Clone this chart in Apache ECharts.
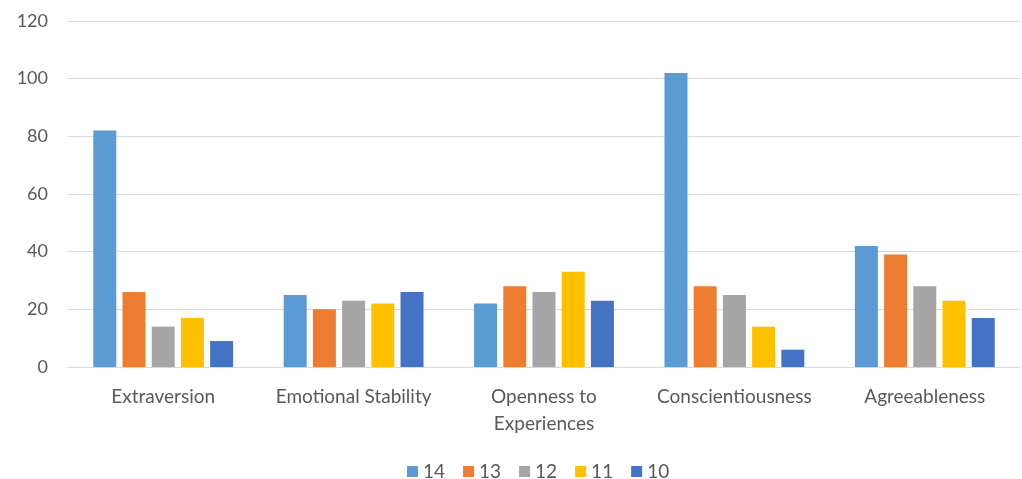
<!DOCTYPE html>
<html>
<head>
<meta charset="utf-8">
<script src="https://cdn.jsdelivr.net/npm/echarts@6/dist/echarts.min.js"></script>
<style>
	html, body { margin: 0; padding: 0; background: #fff; }
	#main { width: 1022px; height: 479px; }
</style>
</head>
<body>
<div id="main"></div>
<script>
	// categories and series values
	var categories = ['Extraversion', 'Emotional Stability', 'Openness to\nExperiences', 'Conscientiousness', 'Agreeableness'];
	var seriesNames = ['14', '13', '12', '11', '10'];
	var v14 = [82, 25, 22, 102, 42];
	var v13 = [26, 20, 28, 28, 39];
	var v12 = [14, 23, 26, 25, 28];
	var v11 = [17, 22, 33, 14, 23];
	var v10 = [9, 26, 23, 6, 17];
	var colors = ['#5B9BD5', '#ED7D31', '#A5A5A5', '#FFC000', '#4472C4'];

	var font = 'Lato, "Open Sans", sans-serif';
	var values = [v14, v13, v12, v11, v10];

	var series = [];
	for (var i = 0; i < seriesNames.length; i++) {
		series.push({
			name: seriesNames[i],
			type: 'bar',
			data: values[i],
			barWidth: 23,
			barGap: '27%',
			itemStyle: { color: colors[i] }
		});
	}

	var myChart = echarts.init(document.getElementById('main'));
	myChart.setOption({
		animation: false,
		color: colors,
		grid: { left: 68, right: 2, top: 21, bottom: 112 },
		legend: {
			top: 457,
			left: 402,
			itemWidth: 11,
			itemHeight: 11,
			itemGap: 18,
			icon: 'rect',
			textStyle: { color: '#595959', fontSize: 19, fontFamily: font }
		},
		xAxis: {
			type: 'category',
			data: categories,
			axisLine: { lineStyle: { color: '#D9D9D9' } },
			axisTick: { show: false },
			axisLabel: { interval: 0, color: '#595959', fontSize: 19, fontFamily: font, margin: 16, lineHeight: 27 }
		},
		yAxis: {
			type: 'value',
			min: 0,
			max: 120,
			interval: 20,
			axisLine: { show: false },
			axisTick: { show: false },
			splitLine: { lineStyle: { color: '#D9D9D9' } },
			axisLabel: { color: '#595959', fontSize: 18, fontFamily: font, margin: 20 }
		},
		series: series
	});
</script>
</body>
</html>
